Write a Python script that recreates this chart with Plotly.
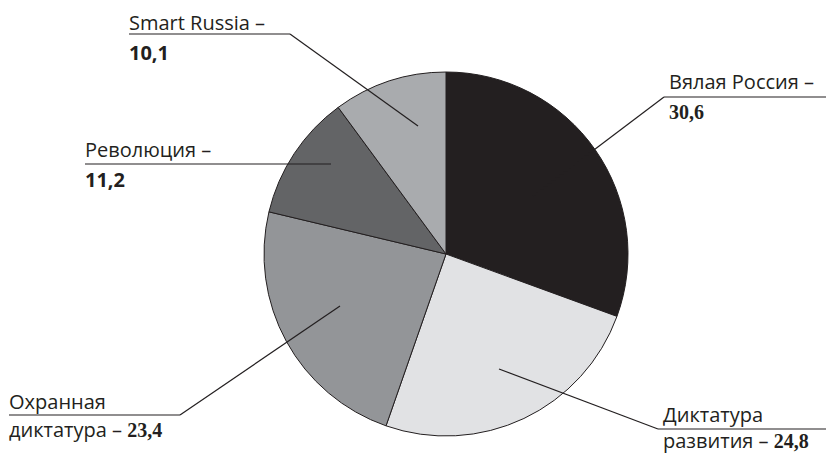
import plotly.graph_objects as go

categories = ["Вялая Россия", "Диктатура развития", "Охранная диктатура", "Революция", "Smart Russia"]
values = [30.6, 24.8, 23.4, 11.2, 10.1]
value_labels = ["30,6", "24,8", "23,4", "11,2", "10,1"]
colors = ["#231f20", "#e1e2e4", "#939598", "#636466", "#a9abae"]

W, H = 826, 454
SANS = "Open Sans"
FS = 20

def px(x):
    return x / W

def py(y):
    return 1 - y / H

cx, cy, r = 446, 254, 182

fig = go.Figure(go.Pie(
    labels=categories,
    values=values,
    sort=False,
    direction="clockwise",
    rotation=0,
    marker=dict(colors=colors, line=dict(color="#231f20", width=1)),
    textinfo="none",
    hoverinfo="label+value",
    showlegend=False,
    domain=dict(x=[px(cx - r), px(cx + r)], y=[py(cy + r), py(cy - r)]),
))

def serif_bold(t):
    return '<b><span style="font-family:Liberation Serif">' + t + '</span></b>'

def sans_bold(t):
    return '<b>' + t + '</b>'

# label blocks: (line1, line2, text x, line1 y, line2 y, underline y, underline x0, x1, leader end)
labels = [
    ("Smart Russia –", sans_bold(value_labels[4]), 127, 22, 52, 34, 129, 290, (418, 126)),
    ("Революция –", sans_bold(value_labels[3]), 83, 149, 179, 164, 85, 331, None),
    ("Вялая Россия –", serif_bold(value_labels[0]), 667, 82, 112, 97, 826, 664, (533, 196)),
    ("Охранная", "диктатура – " + serif_bold(value_labels[2]), 7, 401, 429, 415, 9, 180, (340, 306)),
    ("Диктатура", "развития – " + serif_bold(value_labels[1]), 661, 414, 440, 429, 826, 658, (499, 369)),
]

annotations = []
shapes = []
for l1, l2, tx, y1, y2, uy, ux0, ux1, lead in labels:
    for txt, yy in ((l1, y1), (l2, y2)):
        annotations.append(dict(
            text=txt, x=px(tx), y=py(yy), xref="paper", yref="paper",
            xanchor="left", yanchor="middle", showarrow=False,
            font=dict(family=SANS, size=FS, color="#231f20"),
        ))
    shapes.append(dict(type="line", xref="paper", yref="paper",
                       x0=px(ux0), y0=py(uy), x1=px(ux1), y1=py(uy),
                       line=dict(color="#231f20", width=1.2)))
    if lead:
        shapes.append(dict(type="line", xref="paper", yref="paper",
                           x0=px(ux1), y0=py(uy), x1=px(lead[0]), y1=py(lead[1]),
                           line=dict(color="#231f20", width=1.2)))

fig.update_layout(
    width=W, height=H,
    margin=dict(l=0, r=0, t=0, b=0),
    paper_bgcolor="white",
    plot_bgcolor="white",
    annotations=annotations,
    shapes=shapes,
)

fig.write_html("out.html", config={"displayModeBar": False},
               post_script="document.body.style.margin='0';")
